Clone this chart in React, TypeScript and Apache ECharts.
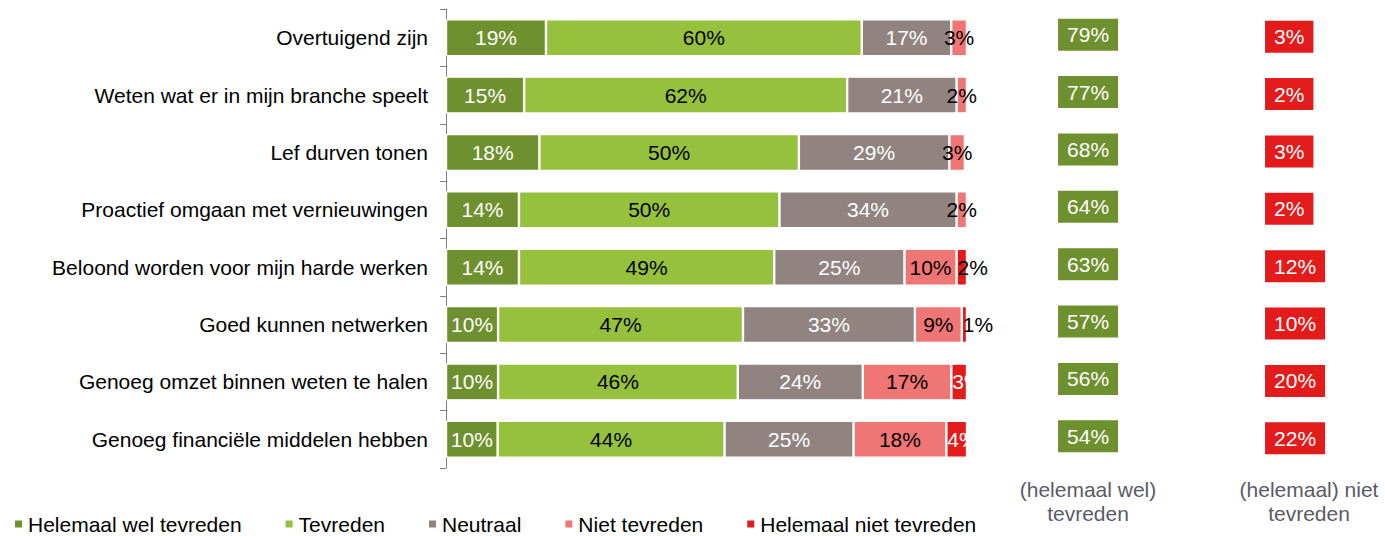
import React, { useEffect, useRef } from "react";
import * as echarts from "echarts";

const categories = [
  "Overtuigend zijn",
  "Weten wat er in mijn branche speelt",
  "Lef durven tonen",
  "Proactief omgaan met vernieuwingen",
  "Beloond worden voor mijn harde werken",
  "Goed kunnen netwerken",
  "Genoeg omzet binnen weten te halen",
  "Genoeg financiële middelen hebben",
];
const seriesNames = [
  "Helemaal wel tevreden",
  "Tevreden",
  "Neutraal",
  "Niet tevreden",
  "Helemaal niet tevreden",
];
const helemaalWel = [19, 15, 18, 14, 14, 10, 10, 10];
const tevreden = [60, 62, 50, 50, 49, 47, 46, 44];
const neutraal = [17, 21, 29, 34, 25, 33, 24, 25];
const nietTevreden = [3, 2, 3, 2, 10, 9, 17, 18];
const helemaalNiet = [0, 0, 0.4, 0, 2, 1, 3, 4];
const totaalTevreden = [79, 77, 68, 64, 63, 57, 56, 54];
const totaalNietTevreden = [3, 2, 3, 2, 12, 10, 20, 22];

const colors = ["#6f902e", "#95c13d", "#918480", "#f07575", "#e31b1b"];
const labelColors = ["#ffffff", "#000000", "#ffffff", "#000000", "#000000"];
const redLabelColors = ["#000", "#000", "#000", "#000", "#000", "#000", "#fff", "#fff"];
const FONT = "'Liberation Sans', Arial, sans-serif";

export default function App() {
  const ref = useRef<HTMLDivElement>(null);
  useEffect(() => {
    if (!ref.current) return;
    const chart = echarts.init(ref.current, undefined, { renderer: "svg" });
    const all = [helemaalWel, tevreden, neutraal, nietTevreden, helemaalNiet];
    const totals = categories.map((_, i) => all.reduce((s, arr) => s + arr[i], 0));

    const barSeries = all.map((arr, si) => ({
      type: "bar",
      name: seriesNames[si],
      stack: "total",
      xAxisIndex: 0,
      yAxisIndex: 0,
      barWidth: 37,
      itemStyle: { color: colors[si], borderColor: "#ffffff", borderWidth: 1.2 },
      label: {
        show: true,
        position: si === 4 ? "insideLeft" : "inside",
        distance: 1,
        fontSize: 21,
        fontFamily: FONT,
        color: labelColors[si],
        formatter: (p: any) => p.data.raw + "%",
      },
      data: arr.map((v, i) => ({
        value: (v / totals[i]) * 100,
        raw: v,
        label: {
          show: v >= 0.5,
          ...(si === 4 ? { color: redLabelColors[i] } : {}),
        },
      })),
    }));

    const boxSeries = (vals: number[], x: number, color: string, dy: number) => ({
      type: "scatter",
      xAxisIndex: 1,
      yAxisIndex: 1,
      symbolSize: 0.1,
      itemStyle: { color: "rgba(0,0,0,0)", opacity: 1 },
      silent: true,
      label: {
        show: true,
        position: "right",
        distance: 0,
        offset: [0, dy],
        backgroundColor: color,
        color: "#ffffff",
        fontSize: 21,
        fontFamily: FONT,
        lineHeight: 22,
        padding: [5, 9, 5, 9],
        opacity: 1,
        formatter: (p: any) => p.data.raw + "%",
      },
      data: vals.map((v, i) => ({ value: [x, categories[i]], raw: v })),
    });

    chart.setOption({
      animation: false,
      grid: [
        { left: 446, top: 9, width: 521, height: 459 },
        { left: 1058, top: 9, width: 207, height: 459 },
      ],
      xAxis: [
        { type: "value", gridIndex: 0, min: 0, max: 100, show: false },
        { type: "value", gridIndex: 1, min: 0, max: 1, show: false },
      ],
      yAxis: [
        {
          type: "category",
          gridIndex: 0,
          inverse: true,
          data: categories,
          axisLine: { show: true, lineStyle: { color: "#808080", width: 1 } },
          axisTick: { show: true, length: 6, lineStyle: { color: "#808080" } },
          axisLabel: { fontSize: 21, fontFamily: FONT, color: "#000", margin: 18 },
        },
        { type: "category", gridIndex: 1, inverse: true, data: categories, show: false },
      ],
      legend: {
        left: 13,
        top: 512,
        padding: 0,
        itemGap: 42,
        itemWidth: 9,
        itemHeight: 9,
        icon: "rect",
        data: seriesNames,
        textStyle: { fontSize: 21, fontFamily: FONT, color: "#000", lineHeight: 24 },
      },
      graphic: [
        {
          type: "text",
          x: 1088,
          y: 477,
          style: {
            text: "(helemaal wel)\ntevreden",
            textAlign: "center",
            fontSize: 21,
            fontFamily: FONT,
            lineHeight: 24,
            fill: "#5a5b66",
          },
        },
        {
          type: "text",
          x: 1309,
          y: 477,
          style: {
            text: "(helemaal) niet\ntevreden",
            textAlign: "center",
            fontSize: 21,
            fontFamily: FONT,
            lineHeight: 24,
            fill: "#5a5b66",
          },
        },
      ],
      series: [
        ...barSeries,
        boxSeries(totaalTevreden, 0, colors[0], -3),
        boxSeries(totaalNietTevreden, 1, colors[4], -1),
      ],
    });
    return () => chart.dispose();
  }, []);
  return (
    <div
      ref={ref}
      style={{ position: "fixed", left: 0, top: 0, width: 1385, height: 536, background: "#fff" }}
    />
  );
}
